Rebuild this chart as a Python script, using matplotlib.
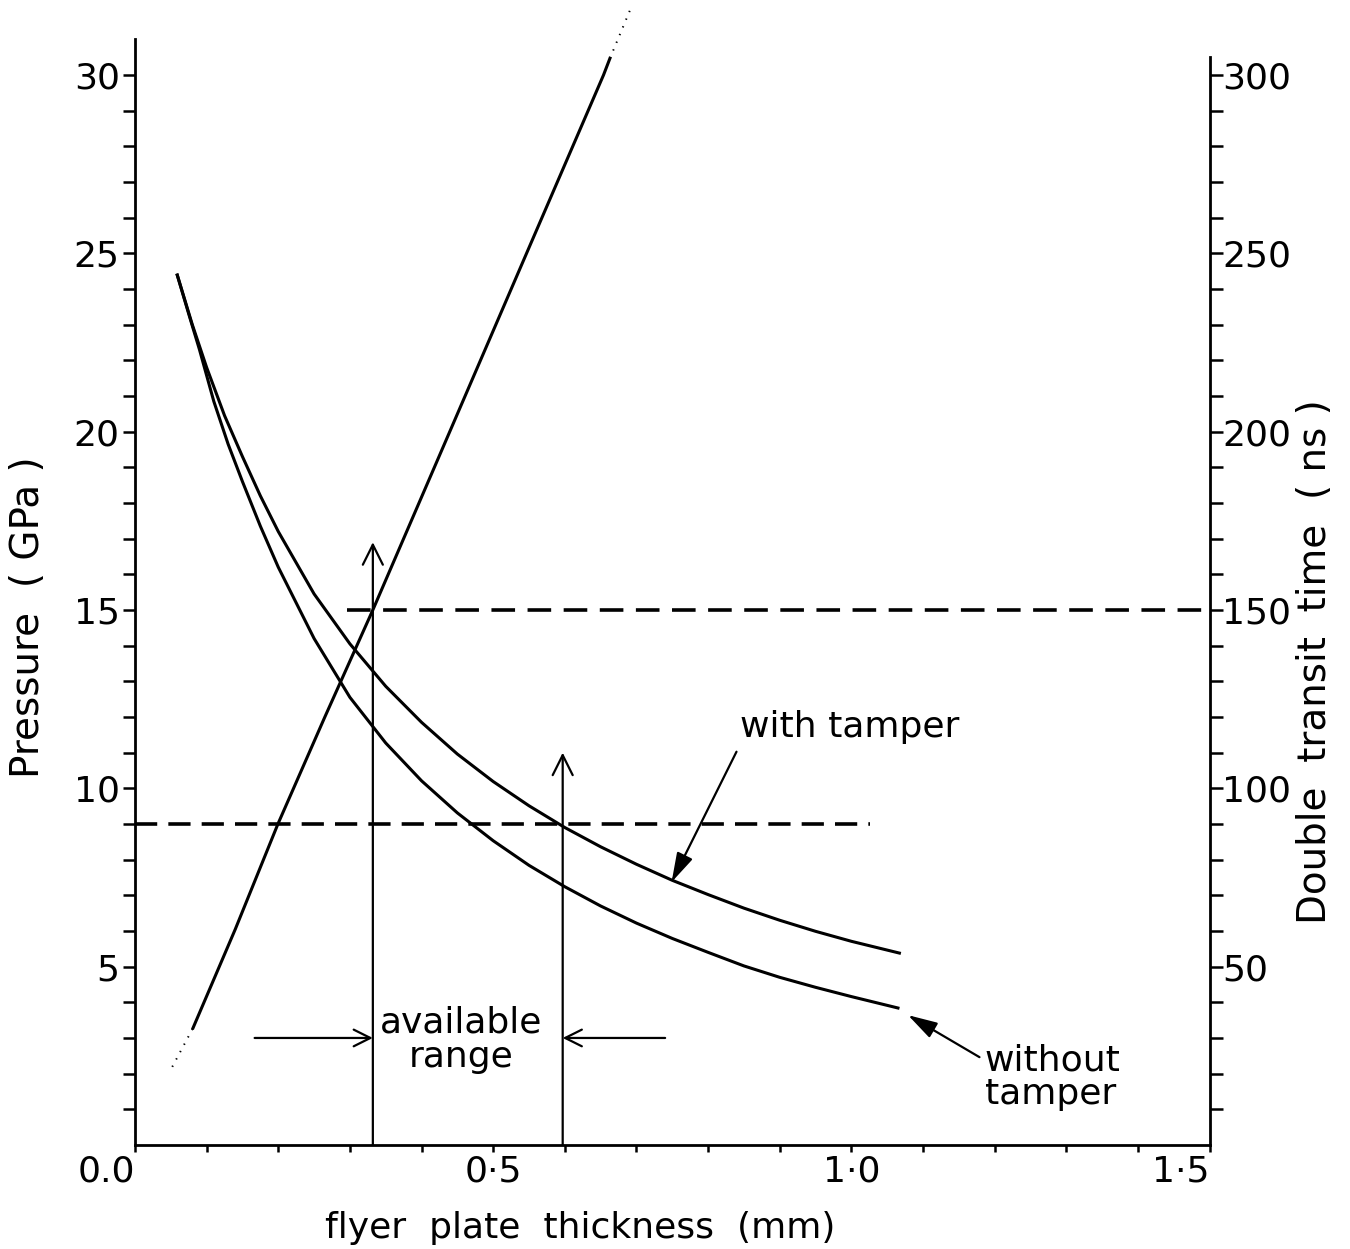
import matplotlib

matplotlib.use("Agg")
import matplotlib.pyplot as plt
from matplotlib.ticker import FixedLocator

plt.rcParams["font.family"] = ["DejaVu Sans"]
plt.rcParams["lines.scale_dashes"] = False

# flyer plate thickness (mm) vs peak pressure (GPa)
x_with = [0.059, 0.08, 0.10, 0.125, 0.15, 0.175, 0.20, 0.25, 0.30, 0.35, 0.40,
          0.45, 0.50, 0.55, 0.60, 0.65, 0.70, 0.75, 0.80, 0.85, 0.90, 0.95,
          1.00, 1.067]
p_with = [24.39, 23.0, 21.8, 20.45, 19.3, 18.2, 17.2, 15.45, 14.05, 12.86, 11.85,
          10.96, 10.19, 9.51, 8.90, 8.36, 7.87, 7.42, 7.02, 6.64, 6.30, 5.99,
          5.71, 5.38]
x_without = [0.059, 0.075, 0.09, 0.11, 0.13, 0.15, 0.175, 0.20, 0.25, 0.30,
             0.35, 0.40, 0.45, 0.50, 0.55, 0.60, 0.65, 0.70, 0.75, 0.80,
             0.85, 0.90, 0.95, 1.00, 1.065]
p_without = [24.39, 23.3, 22.3, 20.85, 19.65, 18.6, 17.35, 16.2, 14.2, 12.55,
             11.27, 10.21, 9.31, 8.53, 7.84, 7.24, 6.70, 6.22, 5.79, 5.40,
             5.02, 4.70, 4.42, 4.16, 3.84]

# double transit time (ns) on the right axis
x_transit = [0.081, 0.14, 0.1995, 0.265, 0.332, 0.44, 0.55, 0.654, 0.663]
t_transit = [32.8, 60.5, 90.0, 120.0, 150.0, 200.3, 251.6, 300.0, 304.7]
x_transit_lo = [0.052, 0.081]
t_transit_lo = [21.9, 32.8]
x_transit_hi = [0.663, 0.691]
t_transit_hi = [304.7, 318.2]

p_limit = 9.0        # GPa, dashed
t_limit = 150.0      # ns, dashed
x_range = [0.332, 0.597]   # available range
arrow_tops = [16.9, 11.0]

xtick_vals = [0.0, 0.5, 1.0, 1.5]
xtick_labels = ["0.0", "0·5", "1·0", "1·5"]
xminor_vals = [i / 10 for i in range(1, 15)]
ytick_vals = [5, 10, 15, 20, 25, 30]
yminor_vals = list(range(1, 31))
rtick_vals = [50, 100, 150, 200, 250, 300]
rminor_vals = list(range(10, 301, 10))

FS = 26
LW = 2.2

fig = plt.figure(figsize=(13.5, 12.49), dpi=100)
ax = fig.add_axes((0.1, 0.0833, 0.796, 0.8852))
ax2 = ax.twinx()

ax.set_xlim(0, 1.5)
ax.set_ylim(0, 31)
ax2.set_ylim(0, 310)

ax.plot(x_with, p_with, color="black", lw=LW, solid_joinstyle="round")
ax.plot(x_without, p_without, color="black", lw=LW, solid_joinstyle="round")
ax2.plot(x_transit, t_transit, color="black", lw=LW, solid_joinstyle="round")
ax2.plot(x_transit_lo, t_transit_lo, color="black", lw=1.4, ls=(0, (1, 5)))
ax2.plot(x_transit_hi, t_transit_hi, color="black", lw=1.4, ls=(0, (1, 5)), clip_on=False)

# dashed limits
ax.plot([0.0, 1.026], [p_limit, p_limit], color="black", lw=2.6, dashes=(16, 8))
ax2.plot([0.296, 1.5], [t_limit, t_limit], color="black", lw=2.6, dashes=(17, 9))

# vertical arrows marking the range
for xr, top in zip(x_range, arrow_tops):
    ax.annotate("", xy=(xr, top), xytext=(xr, 0),
                arrowprops=dict(arrowstyle="->", lw=1.6, color="black",
                                mutation_scale=36, shrinkA=0, shrinkB=0))

ax.annotate("", xy=(x_range[0], 3.0), xytext=(0.167, 3.0),
            arrowprops=dict(arrowstyle="->", lw=1.6, color="black",
                            mutation_scale=30, shrinkA=0, shrinkB=0))
ax.annotate("", xy=(x_range[1], 3.0), xytext=(0.74, 3.0),
            arrowprops=dict(arrowstyle="->", lw=1.6, color="black",
                            mutation_scale=30, shrinkA=0, shrinkB=0))
ax.text(0.455, 2.95, "available\nrange", ha="center", va="center",
        fontsize=FS, linespacing=1.0)

ax.annotate("with tamper", xy=(0.749, 7.37), xytext=(0.845, 11.72),
            ha="left", va="center", fontsize=FS,
            arrowprops=dict(arrowstyle="-|>,head_length=0.45,head_width=0.13",
                            lw=1.6, color="black", mutation_scale=40,
                            shrinkA=4, shrinkB=0, relpos=(0.0, 0.0)))
ax.annotate("without\ntamper", xy=(1.079, 3.64), xytext=(1.186, 1.9),
            ha="left", va="center", fontsize=FS, linespacing=1.0,
            arrowprops=dict(arrowstyle="-|>,head_length=0.45,head_width=0.13",
                            lw=1.6, color="black", mutation_scale=40,
                            shrinkA=2, shrinkB=0, relpos=(0.0, 0.75)))

# axes styling
for s in ["top", "right"]:
    ax.spines[s].set_visible(False)
for s in ["top", "left", "bottom"]:
    ax2.spines[s].set_visible(False)
ax.spines["left"].set_linewidth(2.0)
ax.spines["bottom"].set_linewidth(2.0)
ax2.spines["right"].set_linewidth(2.0)
ax2.spines["right"].set_bounds(0, 305)

ax.set_xticks(xtick_vals, xtick_labels)
ax.xaxis.set_minor_locator(FixedLocator(xminor_vals))
ax.set_yticks(ytick_vals)
ax.yaxis.set_minor_locator(FixedLocator(yminor_vals))
ax2.set_yticks(rtick_vals)
ax2.yaxis.set_minor_locator(FixedLocator(rminor_vals))

ax.tick_params(axis="x", which="both", direction="out", length=5, width=1.8,
               labelsize=FS, pad=2)
ax.tick_params(axis="y", which="both", direction="out", length=9, width=1.8,
               labelsize=FS, pad=2)
ax2.tick_params(axis="y", which="both", direction="out", length=9, width=1.8,
                labelsize=FS, pad=0)
labels = ax.get_xticklabels()
labels[0].set_horizontalalignment("right")
labels[-1].set_horizontalalignment("right")

fig.text(28 / 1350, 1 - 617 / 1249, "Pressure  ( GPa )", rotation=90,
         ha="center", va="center", fontsize=28)
fig.text(1315 / 1350, 1 - 662 / 1249, "Double  transit  time  ( ns )", rotation=90,
         ha="center", va="center", fontsize=28)
fig.text(580 / 1350, 1 - 1228 / 1249, "flyer  plate  thickness  (mm)",
         ha="center", va="center", fontsize=FS)

fig.savefig("out.png", dpi=100)
